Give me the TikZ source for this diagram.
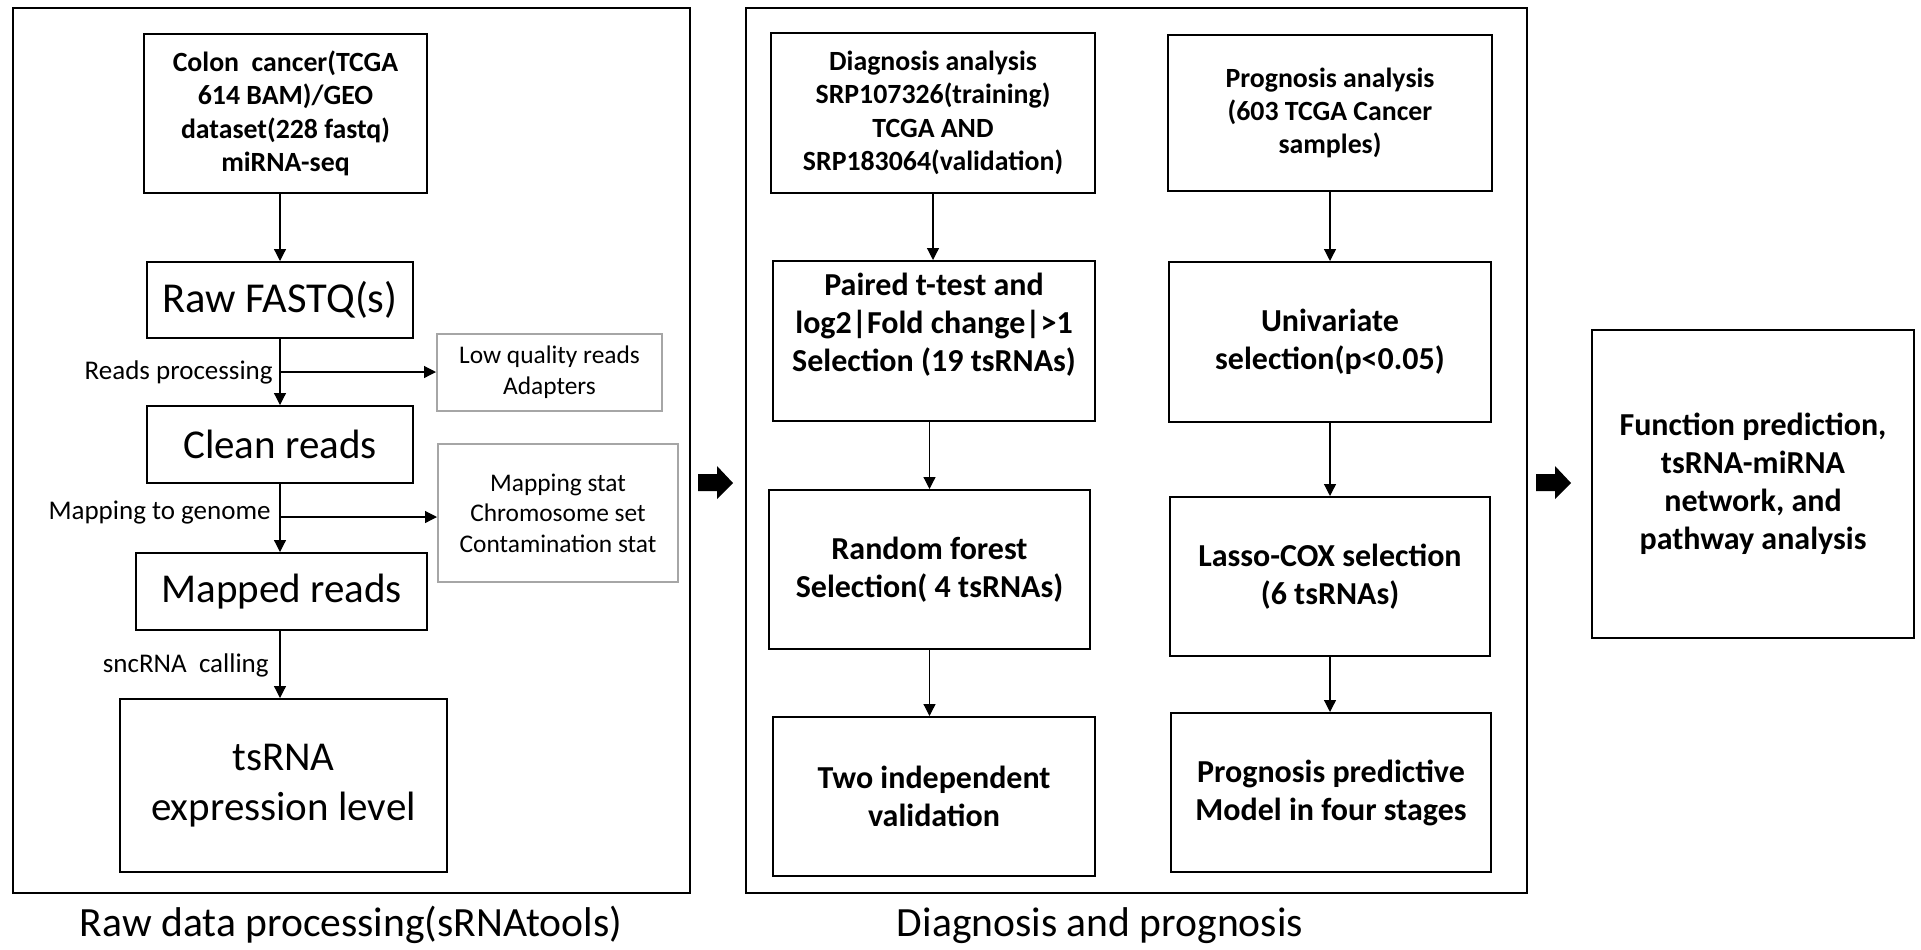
\documentclass[tikz,border=0pt]{standalone}
\usepackage{fontspec}
\setmainfont{Carlito}
\usetikzlibrary{arrows.meta, positioning, calc}
\definecolor{boxgray}{RGB}{166,166,166}

\begin{document}
\begin{tikzpicture}[x=0.5pt, y=-0.5pt,
  panel/.style={draw, line width=1pt, inner sep=0pt},
  stepbox/.style={draw, line width=1pt, align=center, inner sep=0pt},
  bigbox/.style={stepbox, font=\fontsize{20.5}{25}\selectfont},
  boldbox/.style={stepbox, font=\fontsize{16}{19}\selectfont\bfseries},
  smallbold/.style={stepbox, font=\fontsize{13.9}{16.7}\selectfont\bfseries},
  graybox/.style={draw=boxgray, line width=1pt, align=center, inner sep=0pt, font=\fontsize{12.7}{15.3}\selectfont},
  lbl/.style={font=\fontsize{13.5}{16}\selectfont, inner sep=0pt},
  title/.style={font=\fontsize{20.8}{25}\selectfont, inner sep=0pt, anchor=base},
  arr/.style={-{Triangle[length=6pt, width=6pt]}, line width=0.6pt}]
  \useasboundingbox (0,0) rectangle (1921,949);
  % panels
  \node[panel, minimum width=338.5pt, minimum height=442.5pt] (rawpanel) at (351.5,450.5) {};
  \node[panel, minimum width=390.5pt, minimum height=442.5pt] (diagpanel) at (1136.5,450.5) {};
  \node[title] (rawtitle) at (351,936) {Raw data processing(sRNAtools)};
  \node[title] (diagtitle) at (1100,936) {Diagnosis and prognosis};
  % raw data processing
  \node[smallbold, minimum width=141.5pt, minimum height=79.5pt] (colon) at (285.5,113.5)
    {Colon\ \ cancer(TCGA\\614 BAM)/GEO\\dataset(228 fastq)\\miRNA-seq};
  \node[bigbox, minimum width=133pt, minimum height=38pt, font=\fontsize{21.3}{25}\selectfont] (raw) at (280,300) {Raw FASTQ(s)};
  \node[graybox, minimum width=112.5pt, minimum height=38.5pt] (lowq) at (549.5,372.5) {Low quality reads\\Adapters};
  \node[bigbox, minimum width=133pt, minimum height=38.5pt] (clean) at (280,444.5) {Clean reads};
  \node[graybox, minimum width=120pt, minimum height=69pt] (mapstat) at (558,513)
    {Mapping stat\\Chromosome set\\Contamination stat};
  \node[bigbox, minimum width=145.5pt, minimum height=38.5pt] (mapped) at (281.5,591.5) {Mapped reads};
  \node[bigbox, minimum width=163.5pt, minimum height=86.5pt] (tsrna) at (283.5,785.5) {tsRNA\\expression level};
  \coordinate (rp) at (280,372);
  \coordinate (mp) at (280,517);
  \node[lbl, anchor=east] (rplbl) at (273,372) {Reads processing};
  \node[lbl, anchor=east] (mplbl) at (271,513) {Mapping to genome};
  \node[lbl, anchor=east] (snclbl) at (269,665) {sncRNA\ \ calling};
  \draw[arr] (raw.north |- colon.south) -- (raw.north);
  \draw[arr] (raw.south) -- (clean.north);
  \draw[arr] (rp) -- (lowq.west |- rp);
  \draw[arr] (clean.south) -- (clean.south |- mapped.north);
  \draw[arr] (mp) -- (mapstat.west |- mp);
  \draw[arr] (clean.south |- mapped.south) -- (clean.south |- tsrna.north);
  % diagnosis and prognosis
  \node[smallbold, minimum width=162pt, minimum height=80pt] (diag) at (933,113)
    {Diagnosis analysis\\SRP107326(training)\\TCGA AND\\SRP183064(validation)};
  \node[smallbold, minimum width=162pt, minimum height=78pt] (prog) at (1330,113)
    {Prognosis analysis\\(603 TCGA Cancer\\samples)};
  \node[boldbox, minimum width=161pt, minimum height=80pt] (ttest) at (934,341)
    {Paired t-test and\\log2|Fold change|>1\\Selection (19 tsRNAs)\\\mbox{}};
  \node[boldbox, minimum width=161pt, minimum height=80pt] (univ) at (1330,342)
    {Univariate\\selection(p<0.05)};
  \node[boldbox, minimum width=160.5pt, minimum height=79.5pt] (forest) at (929.5,569.5)
    {Random forest\\Selection( 4 tsRNAs)};
  \node[boldbox, minimum width=160pt, minimum height=79.5pt] (lasso) at (1330,576.5)
    {Lasso-COX selection\\(6 tsRNAs)};
  \node[boldbox, minimum width=161pt, minimum height=79.5pt] (valid) at (934,796.5)
    {Two independent\\validation};
  \node[boldbox, minimum width=160pt, minimum height=79.5pt] (model) at (1331,792.5)
    {Prognosis predictive\\Model in four stages};
  \draw[arr] (diag.south) -- (diag.south |- ttest.north);
  \draw[arr] (forest.north |- ttest.south) -- (forest.north);
  \draw[arr] (forest.south) -- (forest.south |- valid.north);
  \draw[arr] (prog.south) -- (univ.north);
  \draw[arr] (univ.south) -- (lasso.north);
  \draw[arr] (lasso.south) -- (lasso.south |- model.north);
  % function prediction
  \node[boldbox, minimum width=161pt, minimum height=154pt] (func) at (1753,484)
    {Function prediction,\\tsRNA-miRNA\\network, and\\pathway analysis};
  % block arrows
  \fill (698,474) -- (717,474) -- (717,466) -- (733,483) -- (717,499) -- (717,491) -- (698,491) -- cycle;
  \fill (1536,474) -- (1555,474) -- (1555,466) -- (1571,483) -- (1555,499) -- (1555,491) -- (1536,491) -- cycle;
\end{tikzpicture}
\end{document}
